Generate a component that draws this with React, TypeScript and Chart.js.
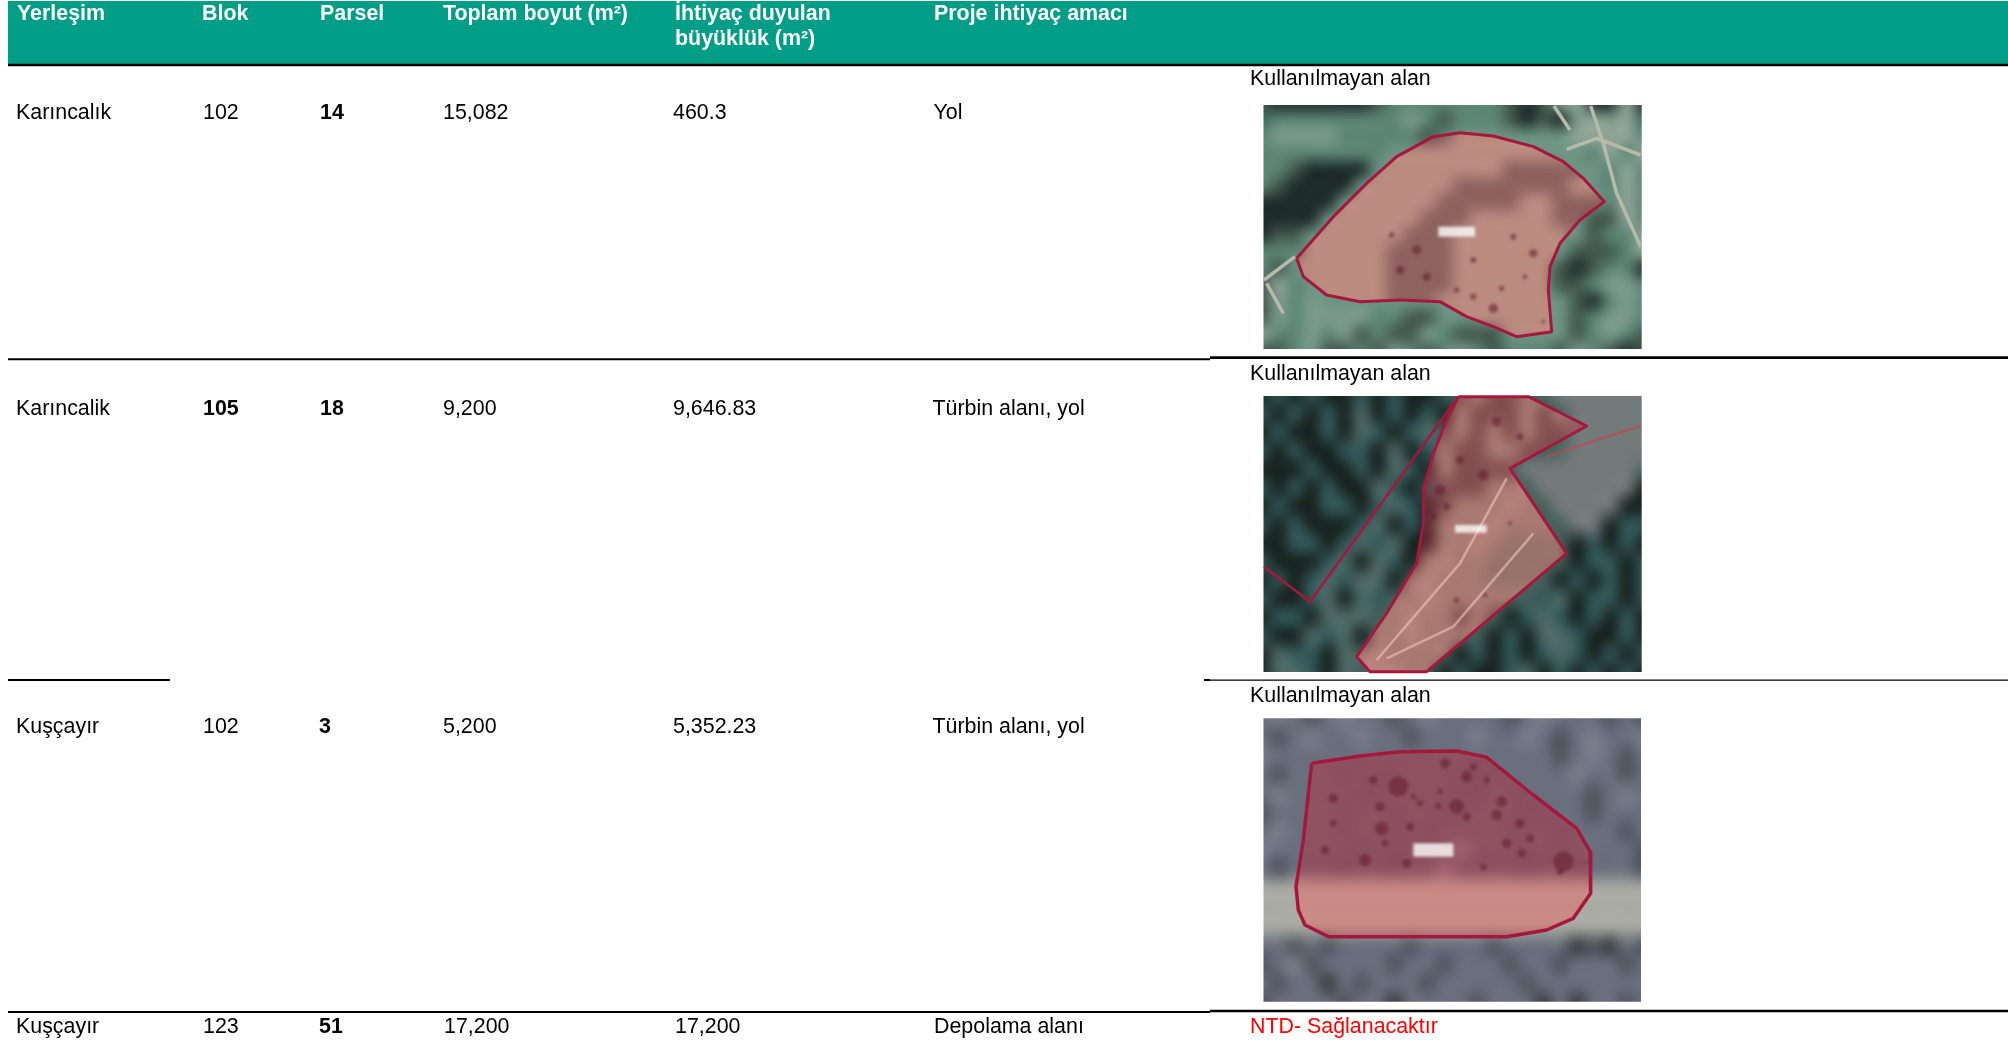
import React, { useEffect, useRef } from "react";
import { Chart, registerables } from "chart.js";

Chart.register(...registerables);

// ---- table content ----
const headers = ["Yerleşim", "Blok", "Parsel", "Toplam boyut (m²)", "İhtiyaç duyulan", "büyüklük (m²)", "Proje ihtiyaç amacı"];
const settlements = ["Karıncalık", "Karıncalik", "Kuşçayır", "Kuşçayır"];
const blocks = ["102", "105", "102", "123"];
const parcels = ["14", "18", "3", "51"];
const totalSizes = ["15,082", "9,200", "5,200", "17,200"];
const neededSizes = ["460.3", "9,646.83", "5,352.23", "17,200"];
const purposes = ["Yol", "Türbin alanı, yol", "Türbin alanı, yol", "Depolama alanı"];
const statuses = ["Kullanılmayan alan", "Kullanılmayan alan", "Kullanılmayan alan", "NTD- Sağlanacaktır"];
const blockBold = [false, true, false, false];

// ---- layout in chart units (1 unit = 1 px) ----
const rowBaselines = [118.5, 415, 732.5, 1033];
const statusBaselines = [85, 380, 701.5, 1032.5];
const colX = {
  settlement: [16, 16, 16, 16],
  block: [203, 203, 203, 203],
  parcel: [320, 320, 319, 319],
  total: [443, 443, 443, 444],
  needed: [673, 673, 673, 675],
  purpose: [933.5, 932.5, 932.5, 934],
  status: [1250, 1250, 1250, 1250],
};
const headerX = [17, 202, 320, 443, 675, 675, 934];
const headerY = [20, 20, 20, 20, 20, 45, 20];

// rules: [x0, x1, y, width]
const rules = [
  [8, 2008, 65, 2.4],
  [8, 1210, 359.3, 2],
  [1210, 2008, 357.6, 2.6],
  [8, 170, 680, 2],
  [1204, 1210, 680, 2],
  [1210, 2008, 680.2, 1.2],
  [8, 1210, 1012, 2],
  [1210, 2008, 1011, 2.6],
];

// ---- parcel outlines (x, y at 3x crop scale) ----
const outline1 = [[290,625],[400,500],[500,400],[590,320],[700,260],[780,248],[880,258],[1000,290],[1090,335],[1150,385],[1213,455],[1140,510],[1080,580],[1050,650],[1045,720],[1055,845],[950,860],[880,830],[800,800],[720,755],[600,750],[480,755],[380,735],[310,680],[290,625]];
const outline2 = [[775,140],[985,140],[1160,228],[930,355],[1100,610],[680,965],[510,965],[470,920],[560,790],[650,640],[670,520],[670,420],[700,310],[740,210],[775,140]];
const neighbour2 = [[775,140],[330,755],[192,650]];
const trackLine2 = [[1040,320],[1322,228]];
const outline3 = [[335,250],[480,228],[600,215],[770,213],[860,232],[1000,345],[1130,445],[1170,515],[1172,640],[1120,715],[1040,750],[920,770],[385,770],[315,735],[295,690],[288,620],[310,480],[335,250]];
const outlines = [outline1, outline2, outline3];
const cropOriginY = [50, 350, 680];

// tracks visible on the photos
const track1a = [[1172,168],[1210,280],[1250,430],[1322,590]];
const track1b = [[1100,298],[1190,265],[1322,315]];
const track1c = [[1062,168],[1110,240]];
const track1d = [[192,690],[285,620]];
const track1e = [[200,700],[250,790]];
const track2a = [[530,930],[780,640],[920,385]];
const track2b = [[560,925],[760,830],[1000,550]];

// ---- photo thumbnails as coarse colour maps ----
const photoRects = [
  { l: 1263.5, t: 105, r: 1641.7, b: 349 },
  { l: 1263.5, t: 396, r: 1641.7, b: 672 },
  { l: 1263.5, t: 718.3, r: 1641, b: 1001.7 },
];
const palette1: Record<string, string> = { d: "#1f2d2a", g: "#5c8576", G: "#7c9a8d", s: "#43584f", p: "#b8c6a6", b: "#6f8472", w: "#8fa596", t: "#3f6a60" };
const palette2: Record<string, string> = { d: "#18231f", t: "#33585a", g: "#4f6a66", f: "#5e6358", n: "#9aa98e", e: "#b5b8a0", h: "#7f9d80", v: "#74797a" };
const palette3: Record<string, string> = { a: "#696f7d", A: "#7a7f8a", D: "#4f545d", r: "#a9aba3", c: "#6e6874", k: "#686270", l: "#8d848c", R: "#d0c4ae", X: "#383b3e" };
const palettes = [palette1, palette2, palette3];
// colours used for the same map cells outside the parcel, so the parcel's colours do not bleed past its outline
const outsidePalettes: Record<string, string>[] = [
  { p: "#6d9384", b: "#6d9384" },
  { n: "#46605c", e: "#46605c", f: "#46605c", h: "#46605c" },
  { c: "#696f7d", k: "#696f7d", l: "#696f7d", R: "#a9aba3" },
];
const photo1 = [
  "sddddddsgggggggsdsGwddwd",
  "tggggggggGgsgggsdsdGwGwt",
  "gGGGGgggggsgpppppppwwwwg",
  "ggggggggppppppppppppgwgw",
  "ggsddddppppppppbbbbbpgwg",
  "gsddddppppppbbbbbbbppgwg",
  "dddddppppppbbbbbppbbbgwg",
  "ddddppppppbbbpppppbbsswg",
  "dssppppppbbbpppppppbsggw",
  "gggpppppbbbbpppppppsssgw",
  "gsppppppbbbbppppppsdsggd",
  "swgpppppbbbbppppppssgGGg",
  "sGgGppppbbbppppppppsdgGg",
  "sGgGGGGggssbpppppppsgGGg",
  "wggGgGsgssGgsssppppsgGgs",
  "ssgGssgsGgsgGgsgggsGgsds",
];
const photo2 = [
  "dtdtddtdtddtfnffnnvvvvvv",
  "tdtdtdgdtdtdnfffnfnvvvvv",
  "dtddtdgtdtgfnfnfnffvvvvv",
  "tdtddttdgdtnffnnffgvvvvv",
  "dddtddtdgtdnffffvvvvvvvg",
  "tdtdtddgtdtfffnnevvvvvvd",
  "dtddttdtgtdfnnnennvvvvdd",
  "tdtdddtgdtdnnnennnnvvdtt",
  "ddttdtgtgddnnenhhhhdtdtd",
  "tdddtgdgtdnennhhhhhdttdt",
  "dtdtgtggdnennnhhhhdtdtdt",
  "tddtgdgtnnennnnnntgdttdt",
  "dttdgggnnennfnfdtgtdtdtd",
  "tddgtgdnnennnndtdggtddtd",
  "dgttdgnennnndtdtdtgtdtdt",
  "dggtdgeeenndtddtgdtdtdtd",
];
const photo3 = [
  "aAaDaAaaDaAaaaaDaAaaaDaD",
  "aDaAaaAaaDaaaAaaAaDaAaaA",
  "AaaccckcccccckkcaaDaAaDa",
  "aDacckckkccckkckcaaAaaDa",
  "aAaccckkcccckkcckcaaDaAa",
  "DaacckcckcckcccckkcaDaaa",
  "aAacckcckckcccckcckcaaDa",
  "AaaccckckccclccckckcaaaD",
  "aDacckcckcclcccckcckkaaD",
  "rrRRRRRRRRRRRRRRRRRRRrrr",
  "rrRRRRRRRRRRRRRRRRRRRrrr",
  "rrRRRRRRRRRRRRRRRRRRrrrr",
  "aaDaDaaaaDaaaaDaaaaXDXaD",
  "DaADaaaaDaaDaaaDaaDaaaDa",
  "aDaaXaDaaaDaaaaaDaaaaaaa",
  "DaaaaDaaXaaaaDaaaXaXaaDa",
];
const photos = [photo1, photo2, photo3];
// dark bushes on the photos: [x, y, r] on the 3x crop scale
const bushes1 = [[575,555,8],[820,630,9],[1000,610,12],[975,680,7],[880,775,14],[820,740,9],[770,720,8],[940,560,9],[1030,815,6],[905,715,8],[650,600,14],[600,660,12],[680,680,12]];
const bushes2 = [[890,215,14],[960,260,10],[850,375,16],[780,330,12],[720,420,16],[770,750,8],[855,735,7],[930,520,6],[740,470,10],[700,500,9]];
const bushes3 = [[595,320,30],[735,250,15],[400,355,14],[540,380,14],[770,380,22],[800,410,12],[715,378,9],[660,370,10],[720,335,8],[905,365,16],[890,405,16],[630,440,12],[545,445,20],[555,490,10],[375,510,12],[495,540,18],[620,550,14],[920,490,14],[990,475,12],[965,520,12],[850,562,10],[1080,575,10],[1090,545,30],[800,290,16],[860,300,10],[820,260,10],[520,300,12],[960,430,14],[640,350,8],[400,430,10]];
const bushes = [bushes1, bushes2, bushes3];
// small white map labels inside the parcels: [x0, y0, x1, y1] on the 3x crop scale
const mapLabels = [[715, 530, 825, 560], [765, 525, 860, 548], [640, 490, 760, 530]];

const toPoints = (pts: number[][], i: number) =>
  pts.map(([x, y]) => ({ x: 1200 + x / 3, y: cropOriginY[i] + y / 3 }));

const STROKE = "#a5183c";
const FILL = "rgba(190,50,70,0.40)";
const FONT = '"Liberation Sans", Arial, sans-serif';

const makeMap = (rows: string[], colours: Record<string, string>) => {
  const off = document.createElement("canvas");
  off.width = rows[0].length;
  off.height = rows.length;
  const o = off.getContext("2d")!;
  rows.forEach((row, j) => {
    for (let k = 0; k < row.length; k++) {
      o.fillStyle = colours[row[k]] || "#777";
      o.fillRect(k, j, 1, 1);
    }
  });
  return off;
};

const tablePlugin = {
  id: "tablePlugin",
  beforeDatasetsDraw(chart: any) {
    const { ctx, scales } = chart;
    const X = scales.x, Y = scales.y;
    const px = (x: number, i: number) => X.getPixelForValue(1200 + x / 3);
    const py = (y: number, i: number) => Y.getPixelForValue(cropOriginY[i] + y / 3);
    // header band
    ctx.save();
    ctx.fillStyle = "#009E87";
    const hx = X.getPixelForValue(8), hy = Y.getPixelForValue(1);
    ctx.fillRect(hx, hy, X.getPixelForValue(2008) - hx, Y.getPixelForValue(64.5) - hy);
    // photos
    photos.forEach((rows, i) => {
      const r = photoRects[i];
      const l = X.getPixelForValue(r.l), t = Y.getPixelForValue(r.t);
      const w = X.getPixelForValue(r.r) - l, h = Y.getPixelForValue(r.b) - t;
      ctx.save();
      ctx.beginPath();
      ctx.rect(l, t, w, h);
      ctx.clip();
      ctx.imageSmoothingEnabled = true;
      ctx.imageSmoothingQuality = "high";
      ctx.filter = "blur(3px)";
      ctx.drawImage(makeMap(rows, { ...palettes[i], ...outsidePalettes[i] }), l - 10, t - 10, w + 20, h + 20);
      ctx.filter = "none";
      ctx.save();
      ctx.beginPath();
      outlines[i].forEach(([x, y], k) => (k ? ctx.lineTo(px(x, i), py(y, i)) : ctx.moveTo(px(x, i), py(y, i))));
      ctx.closePath();
      ctx.clip();
      ctx.filter = "blur(3px)";
      ctx.drawImage(makeMap(rows, palettes[i]), l - 10, t - 10, w + 20, h + 20);
      ctx.filter = "blur(1.6px)";
      ctx.fillStyle = "rgba(45,20,35,0.6)";
      bushes[i].forEach(([x, y, rad]) => {
        ctx.beginPath();
        ctx.arc(px(x, i), py(y, i), rad / 3, 0, Math.PI * 2);
        ctx.fill();
      });
      ctx.restore();
      ctx.restore();
    });
    ctx.restore();
  },
  afterDatasetsDraw(chart: any) {
    const { ctx, scales } = chart;
    const X = scales.x, Y = scales.y;
    ctx.save();
    // map labels
    ctx.fillStyle = "rgba(255,255,255,0.8)";
    ctx.filter = "blur(1.5px)";
    mapLabels.forEach(([x0, y0, x1, y1], i) => {
      const a = X.getPixelForValue(1200 + x0 / 3), b = Y.getPixelForValue(cropOriginY[i] + y0 / 3);
      ctx.fillRect(a, b, (x1 - x0) / 3, (y1 - y0) / 3);
    });
    ctx.filter = "none";
    ctx.textBaseline = "alphabetic";
    ctx.textAlign = "left";
    const put = (s: string, x: number, y: number, bold: boolean, color: string) => {
      ctx.font = `${bold ? "bold " : ""}21.4px ${FONT}`;
      ctx.fillStyle = color;
      ctx.fillText(s, X.getPixelForValue(x), Y.getPixelForValue(y));
    };
    headers.forEach((s, i) => put(s, headerX[i], headerY[i], true, "#ffffff"));
    settlements.forEach((_, r) => {
      const y = rowBaselines[r];
      put(settlements[r], colX.settlement[r], y, false, "#000");
      put(blocks[r], colX.block[r], y, blockBold[r], "#000");
      put(parcels[r], colX.parcel[r], y, true, "#000");
      put(totalSizes[r], colX.total[r], y, false, "#000");
      put(neededSizes[r], colX.needed[r], y, false, "#000");
      put(purposes[r], colX.purpose[r], y, false, "#000");
      put(statuses[r], colX.status[r], statusBaselines[r], false, r === 3 ? "#ff0000" : "#000");
    });
    ctx.restore();
  },
};

export default function App() {
  const ref = useRef<HTMLCanvasElement | null>(null);
  useEffect(() => {
    if (!ref.current) return;
    const base = { showLine: true, pointRadius: 0, tension: 0, borderJoinStyle: "round" };
    const track = (pts: number[][], i: number, color: string, w: number, label: string) => ({
      ...base, label, data: toPoints(pts, i), borderColor: color, borderWidth: w, fill: false,
    });
    const datasets: any[] = [
      track(track2a, 1, "rgba(240,205,195,0.55)", 2.5, "İz 2a"),
      track(track2b, 1, "rgba(240,205,195,0.55)", 2.5, "İz 2b"),
      { ...base, label: "Parsel 14", data: toPoints(outline1, 0), borderColor: STROKE, borderWidth: 3, backgroundColor: FILL, fill: "shape" },
      { ...base, label: "Parsel 18", data: toPoints(outline2, 1), borderColor: STROKE, borderWidth: 3, backgroundColor: FILL, fill: "shape" },
      { ...base, label: "Komşu parsel", data: toPoints(neighbour2, 1), borderColor: STROKE, borderWidth: 2.5, fill: false },
      { ...base, label: "Yol izi", data: toPoints(trackLine2, 1), borderColor: "rgba(190,70,80,0.65)", borderWidth: 2.5, fill: false },
      { ...base, label: "Parsel 3", data: toPoints(outline3, 2), borderColor: STROKE, borderWidth: 3.5, backgroundColor: FILL, fill: "shape" },
      track(track1a, 0, "#b7baa8", 3.5, "İz 1a"),
      track(track1b, 0, "#b7baa8", 3.5, "İz 1b"),
      track(track1c, 0, "#b7baa8", 3.5, "İz 1c"),
      track(track1d, 0, "#b7baa8", 3.5, "İz 1d"),
      track(track1e, 0, "#b7baa8", 3.5, "İz 1e"),
      ...rules.map(([x0, x1, y, w], i) => ({
        ...base,
        label: `rule ${i}`,
        data: [{ x: x0, y }, { x: x1, y }],
        borderColor: "#000",
        borderWidth: w,
        borderCapStyle: "butt",
        fill: false,
      })),
    ];
    const chart = new Chart(ref.current, {
      type: "scatter",
      data: { datasets },
      plugins: [tablePlugin],
      options: {
        animation: false,
        responsive: false,
        devicePixelRatio: 1,
        layout: { padding: 0 },
        plugins: { legend: { display: false }, tooltip: { enabled: false }, title: { display: false } },
        scales: {
          x: { type: "linear", min: 0, max: 2008, display: false },
          y: { type: "linear", min: 0, max: 1056, reverse: true, display: false },
        },
      } as any,
    } as any);
    return () => chart.destroy();
  }, []);
  return (
    <div style={{ position: "absolute", left: 0, top: 0, width: 2008, height: 1056, background: "#fff" }}>
      <canvas ref={ref} width={2008} height={1056} style={{ display: "block" }} />
    </div>
  );
}
